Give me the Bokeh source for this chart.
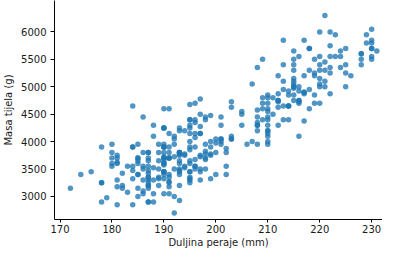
from bokeh.plotting import figure
from bokeh.models import FixedTicker, Range1d
from bokeh.embed import file_html
from bokeh.resources import INLINE

# Adelie
adelie_flipper = [181,186,195,193,190,181,195,193,190,186,180,182,191,198,185,195,197,184,194,
                  174,180,189,185,180,187,183,187,172,180,
                  178,178,188,184,195,196,190,180,181,184,182,195,186,196,185,190,182,179,190,191,
                  186,188,190,200,187,191,186,193,181,194,185,195,185,192,184,192,195,188,
                  190,198,190,190,196,197,190,195,191,184,187,195,189,196,187,193,
                  191,194,190,189,189,190,202,205,185,186,187,208,190,196,178,192,
                  192,203,183,190,193,184,199,190,181,197,198,191,193,197,191,196,
                  188,199,189,189,187,198,176,202,186,199,191,195,191,210,190,197,
                  193,199,187,190,191,200,185,193,193,187,188,190,192,185,190,184,195,193,187,201]
adelie_mass = [3750,3800,3250,3450,3650,3625,4675,3475,4250,3300,3700,3200,3800,4400,3700,3450,4500,3325,4200,
               3400,3600,3800,3950,3800,3800,3550,3200,3150,3950,
               3250,3900,3300,3900,3325,4150,3950,3550,3300,4650,3150,3900,3100,4400,3000,4600,3425,2975,3450,4150,
               3500,4300,3450,4050,2900,3700,3550,3800,2850,3750,3150,4400,3600,4050,2850,3950,3350,4100,
               3050,4450,3600,3900,3550,4150,3700,4250,3700,3900,3550,4000,3200,4700,3800,4200,
               3350,3550,3800,3500,3950,3600,3550,4300,3400,4450,3300,4300,3700,4350,2900,4100,
               3725,4725,3075,4250,2925,3550,3750,3900,3175,4775,3825,4600,3200,4275,3900,4075,
               2900,3775,3350,3325,3150,3500,3450,3875,3050,4000,3275,4300,3050,4000,3325,3500,
               3500,4475,3425,3900,3175,3975,3400,4250,3400,3475,3050,3725,3000,3650,4250,3475,3450,3750,3700,4000]

# Chinstrap
chinstrap_flipper = [192,196,193,188,197,198,178,197,195,198,193,194,185,201,190,201,197,181,190,195,
                     181,191,187,193,195,197,200,200,191,205,187,201,187,203,195,199,195,210,192,205,
                     210,187,196,196,196,201,190,212,187,198,199,201,193,203,187,197,191,203,202,194,
                     206,189,195,207,202,193,210,198]
chinstrap_mass = [3500,3900,3650,3525,3725,3950,3250,3750,4150,3700,3800,3775,3700,4050,3575,4050,3300,3700,3450,4400,
                  3600,3400,2900,3800,3300,4150,3400,3800,3700,4550,3200,4300,3350,4100,3600,3900,3850,4800,2700,4500,
                  3950,3650,3550,3500,3675,4450,3400,4300,3250,3675,3325,3950,3600,4050,3350,3450,3250,4050,3800,3525,
                  3950,3650,3650,4000,3400,3775,4100,3775]

# Gentoo
gentoo_flipper = [211,230,210,218,215,210,211,219,209,215,214,216,214,213,210,217,210,221,209,222,
                  218,215,213,215,215,215,216,215,210,220,222,209,207,230,220,220,213,219,208,208,
                  208,225,210,216,222,217,210,225,213,215,210,220,210,225,217,220,208,220,208,224,
                  208,221,214,231,219,230,214,229,220,223,216,221,221,217,216,230,209,220,215,223,
                  212,221,212,224,212,228,218,218,212,230,218,228,212,224,214,226,216,222,203,225,
                  219,228,215,228,216,215,210,219,208,209,216,229,213,230,217,230,217,222,214,215,
                  222,212,213]
gentoo_mass = [4500,5700,4450,5700,5400,4550,4800,5200,4400,5150,4650,5550,4650,5850,4200,5850,4150,6300,4800,5350,
               5700,5000,4400,5050,5000,5100,4100,5650,4600,5550,5250,4700,5050,6050,5150,5400,4950,5250,4350,5350,
               3950,5700,4300,4750,5550,4900,4200,5400,5100,5300,4850,5300,4400,5000,4900,5050,4300,5000,4450,5550,
               4200,5300,4400,5650,4700,5700,4650,5800,4700,5550,4750,5000,5100,5200,4700,5800,4600,6000,4750,5950,
               4625,5450,4725,5350,4750,5600,4600,5300,4875,5550,4950,5400,4750,5650,4850,5200,4925,4875,4625,5250,
               4850,5600,4975,5500,4725,5500,4700,5500,4575,5500,5000,5950,4650,5500,4375,5850,4875,6000,4925,4850,
               5750,5200,5400]

x_ticks = [170, 180, 190, 200, 210, 220, 230]
y_ticks = [3000, 3500, 4000, 4500, 5000, 5500, 6000]
x_label = "Duljina peraje (mm)"
y_label = "Masa tijela (g)"

flipper = adelie_flipper + gentoo_flipper + chinstrap_flipper
mass = adelie_mass + gentoo_mass + chinstrap_mass

p = figure(width=382, height=250, output_backend="svg", toolbar_location=None,
           x_range=Range1d(168.94, 232.09), y_range=Range1d(2580, 6573),
           min_border_left=53, min_border_right=0, min_border_top=0, min_border_bottom=20)

p.scatter(flipper, mass, marker="circle", size=5.5,
          fill_color="#1f77b4", fill_alpha=0.78, line_color=None)

p.outline_line_color = None
p.xgrid.visible = False
p.ygrid.visible = False
p.background_fill_color = "white"
p.border_fill_color = "white"

p.xaxis.ticker = FixedTicker(ticks=x_ticks)
p.yaxis.ticker = FixedTicker(ticks=y_ticks)
p.xaxis.axis_label = x_label
p.yaxis.axis_label = y_label

for ax in (p.xaxis[0], p.yaxis[0]):
    ax.axis_line_color = "black"
    ax.axis_line_width = 1
    ax.major_tick_line_color = "black"
    ax.major_tick_line_width = 1
    ax.major_tick_in = 0
    ax.minor_tick_line_color = None
    ax.major_label_text_font = "DejaVu Sans"
    ax.major_label_text_font_size = "10px"
    ax.major_label_text_color = "#1a1a1a"
    ax.axis_label_text_font = "DejaVu Sans"
    ax.axis_label_text_font_size = "10px"
    ax.axis_label_text_font_style = "normal"
    ax.axis_label_text_color = "#1a1a1a"

p.xaxis.major_tick_out = 3
p.xaxis.major_label_standoff = 2
p.xaxis.axis_label_standoff = 1
p.yaxis.major_tick_out = 4
p.yaxis.major_label_standoff = 4
p.yaxis.axis_label_standoff = 4

open("out.html", "w").write(file_html(p, INLINE))
